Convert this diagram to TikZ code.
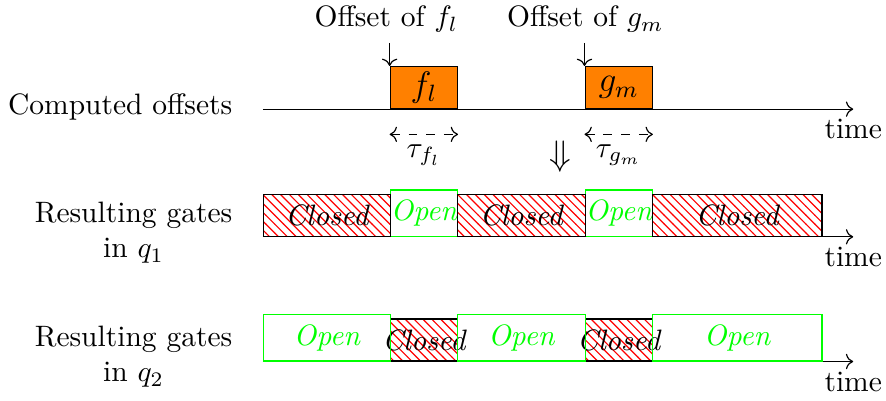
\documentclass[tikz,border=0pt]{standalone}
\usepackage{amsmath}
\usetikzlibrary{
  arrows.meta,
  positioning,
  patterns
}
\newcommand{\boxtxt}[1]{\makebox[0pt]{#1}}

\begin{document}
\begin{tikzpicture}[
    frame/.style={draw, fill=orange, inner sep=0pt, minimum height=0.5cm, anchor=south west, font=\large},
    shut/.style={draw, pattern=north west lines, pattern color=red, minimum height=0.5cm, anchor=south west, font=\itshape},
    gate/.style={draw=green, text=green, minimum height=0.5cm, anchor=south west, font=\itshape},
    rowlbl/.style={anchor=east, align=center}
  ]
  \useasboundingbox (-3.13,1.30) rectangle (7.42,-3.475);

  % Computed offsets
  \node[rowlbl] (lofs) at (-0.24,0.03) {Computed offsets};
  \coordinate (a0) at (0,0);
  \coordinate (e0) at (7.03,0);
  \draw[->] (a0) -- (e0) node[below] (t0) {time};
  \node[frame, minimum width=0.8cm] (fl) at (1.51,0) {$f_l$};
  \node[frame, minimum width=0.8cm] (gm) at (3.83,0) {$g_m$};

  % Offsets
  \node (offf) at (1.47,1.07) {Offset of $f_l$};
  \node (offg) at (3.84,1.07) {Offset of $g_m$};
  \draw[->] (fl.north west |- offf.south) -- (fl.north west);
  \draw[->] (gm.north west |- offf.south) -- (gm.north west);

  % Durations
  \draw[<->, dashed] ([yshift=-0.3cm]fl.south west) -- ([yshift=-0.3cm]fl.south east)
    node[midway, below] (tf) {$\tau_{f_l}$};
  \draw[<->, dashed] ([yshift=-0.3cm]gm.south west) -- ([yshift=-0.3cm]gm.south east)
    node[midway, below] (tg) {$\tau_{g_m}$};

  \node[font=\large] (down) at (3.54,-0.57) {$\Downarrow$};

  % Gates in q1
  \node[rowlbl] (lq1) at (-0.24,-1.47) {Resulting gates\\in $q_1$};
  \coordinate (a1) at (0,-1.52);
  \coordinate (e1) at (7.03,-1.52);
  \draw[->] (a1) -- (e1) node[below] (t1) {time};
  \node[gate, minimum width=0.8cm] (o11) at (1.51,-1.52) {\boxtxt{Open}};
  \node[gate, minimum width=0.8cm] (o12) at (3.83,-1.52) {\boxtxt{Open}};
  \node[shut, minimum width=1.51cm] (c11) at (0,-1.52) {\boxtxt{Closed}};
  \node[shut, minimum width=1.52cm] (c12) at (2.31,-1.52) {\boxtxt{Closed}};
  \node[shut, minimum width=2.02cm] (c13) at (4.63,-1.52) {\boxtxt{Closed}};

  % Gates in q2
  \node[rowlbl] (lq2) at (-0.24,-2.95) {Resulting gates\\in $q_2$};
  \coordinate (a2) at (0,-3.005);
  \coordinate (e2) at (7.03,-3.005);
  \draw[->] (a2) -- (e2) node[below] (t2) {time};
  \node[shut, minimum width=0.8cm] (c21) at (1.51,-3.005) {\boxtxt{Closed}};
  \node[shut, minimum width=0.8cm] (c22) at (3.83,-3.005) {\boxtxt{Closed}};
  \node[gate, minimum width=1.51cm] (o21) at (0,-3.005) {\boxtxt{Open}};
  \node[gate, minimum width=1.52cm] (o22) at (2.31,-3.005) {\boxtxt{Open}};
  \node[gate, minimum width=2.02cm] (o23) at (4.63,-3.005) {\boxtxt{Open}};
\end{tikzpicture}
\end{document}
